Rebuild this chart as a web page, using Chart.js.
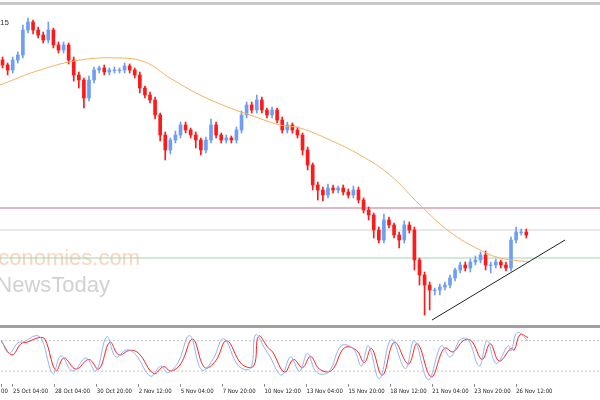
<!DOCTYPE html>
<html><head><meta charset="utf-8">
<script src="https://cdn.jsdelivr.net/npm/chart.js@4"></script>
<style>
html,body{margin:0;padding:0;background:#fff;width:600px;height:400px;overflow:hidden;font-family:Arial,"Liberation Sans",sans-serif}
#top{position:absolute;left:0;top:2px;width:600px;height:3px;background:#c8c8c8}
#sep{position:absolute;left:0;top:325px;width:600px;height:3px;background:#a0a0a0}
#c1{position:absolute;left:0;top:0}
#c2{position:absolute;left:0;top:328px}
#lbl{position:absolute;left:0;top:18px;font-size:8px;color:#333}
</style></head><body>
<div id="top"></div>
<canvas id="c1" width="600" height="325"></canvas>
<div id="sep"></div>
<canvas id="c2" width="600" height="72"></canvas>
<div id="lbl">15</div>
<script>
// price values expressed on chart scale (screen-like, reversed axis)
const firstOpen = 60;
const closes = [65,70,60,55,30,22,30,35,40,30,
45,50,45,60,75,80,98,80,70,68,
72,70,70,70,66,70,75,88,95,100,
115,135,150,140,135,125,130,135,140,150,
140,125,135,140,138,140,130,115,105,110,
100,110,115,110,120,130,125,130,135,150,
165,185,190,195,188,190,188,192,195,190,
200,210,215,230,240,220,225,235,240,225,
230,260,275,285,290,290,287,285,278,270,
265,268,262,260,255,265,265,262,265,268,
240,232,232,235];
const wickUp = [3,2,3,3,5,4,2,3,3,8,2,3,3,2,3,3,2,4,3,2,
3,2,3,2,3,2,2,3,2,3,3,2,3,2,4,3,3,2,3,2,
3,6,3,2,3,2,3,4,3,3,5,3,2,3,2,3,3,2,3,2,
3,2,3,3,4,3,2,3,3,4,3,2,3,2,3,6,3,2,3,4,
3,3,2,3,3,2,3,3,3,2,3,3,3,4,3,4,3,3,2,3,
3,5,3,3];
const wickDn = [3,5,3,3,3,3,4,3,3,3,3,3,3,4,6,8,10,3,3,3,
3,3,3,3,3,3,3,5,3,3,4,6,10,4,3,3,3,3,8,5,
3,3,3,3,3,3,3,3,3,3,3,3,3,3,3,3,3,3,3,5,
5,5,10,6,3,3,3,3,3,3,3,3,5,8,3,3,3,3,8,3,
3,10,10,30,20,5,5,3,3,3,3,3,4,3,3,5,8,3,3,3,
3,3,3,3];
const maPts = [[0,85],[40,70],[80,60],[120,58],[145,62],[170,78],[200,95],[230,108],[250,115],[280,125],[300,128],[330,140],[360,155],[390,175],[420,205],[450,232],[480,250],[500,258],[530,262]];
const hLines = [{y:208,c:"#c4708a"},{y:230,c:"#d4d4d4"},{y:258,c:"#9fd8b0"}];
const trend = [[432,320],[565,240]];
const kPts = [[0,82],[8,55],[17,76],[23,78],[35,90],[41,82],[52,15],[60,50],[72,20],[85,46],[95,20],[106,88],[115,48],[126,62],[135,52],[150,10],[160,30],[167,17],[177,36],[189,90],[201,22],[212,42],[223,84],[238,30],[250,26],[255,92],[265,62],[269,50],[281,12],[290,48],[299,20],[307,55],[316,18],[328,18],[341,70],[353,64],[361,30],[368,70],[379,5],[391,82],[405,25],[414,80],[428,3],[441,70],[450,48],[460,82],[468,82],[479,30],[487,80],[496,35],[508,70],[511,60],[517,96],[528,80]];
const dPts = [[0,80],[11,52],[20,74],[26,77],[38,86],[44,83],[55,21],[63,46],[75,24],[88,43],[98,24],[109,77],[118,52],[129,61],[138,55],[153,15],[163,29],[170,20],[180,34],[192,83],[204,27],[215,40],[226,80],[241,34],[253,30],[258,89],[268,65],[272,58],[284,18],[293,43],[302,27],[310,49],[319,24],[331,21],[344,66],[356,61],[364,37],[371,65],[382,12],[394,77],[408,34],[417,74],[431,9],[444,65],[453,58],[463,80],[471,80],[482,43],[490,74],[499,40],[511,65],[514,61],[520,92],[528,86]];
const tickPos = [12,54,96,138,180,222,264,306,348,390,432,474,516];
const tickLabels = ["25 Oct 04:00","28 Oct 04:00","30 Oct 20:00","2 Nov 12:00","5 Nov 04:00","7 Nov 20:00","10 Nov 12:00","13 Nov 04:00","15 Nov 20:00","18 Nov 12:00","21 Nov 04:00","23 Nov 20:00","26 Nov 12:00"];

const N = 118;
const labels = Array.from({length:N},(_, i)=>i);
const opens = closes.map((c,i)=> i===0?firstOpen:closes[i-1]);
const bodies = closes.map((c,i)=>[opens[i], c===opens[i]?c+0.6:c]);
const wicks = closes.map((c,i)=>[Math.min(opens[i],c)-wickUp[i], Math.max(opens[i],c)+wickDn[i]]);
const cols = closes.map((c,i)=> c<=opens[i] ? "#6f9ef2" : "#ff1a1a");
const xy = a=>a.map(p=>({x:p[0],y:p[1]}));

const datasets = [
 {type:'bar',data:wicks,backgroundColor:cols,barThickness:1,grouped:false,order:3},
 {type:'bar',data:bodies,backgroundColor:cols,barThickness:3,grouped:false,order:2},
 {type:'line',xAxisID:'xp',data:xy(maPts),borderColor:"#f5b060",borderWidth:1,pointRadius:0,tension:0.4,order:1},
 {type:'line',xAxisID:'xp',data:xy(trend),borderColor:"#222",borderWidth:1,pointRadius:0,order:0},
];
hLines.forEach(h=>datasets.push({type:'line',xAxisID:'xp',data:[{x:0,y:h.y},{x:600,y:h.y}],borderColor:h.c,borderWidth:1.2,pointRadius:0,order:4}));

const watermark = {id:'wm',beforeDatasetsDraw(ch){const c=ch.ctx;c.save();c.font="22px 'Liberation Sans',Arial";c.textAlign='right';
 c.fillStyle="rgba(240,150,90,0.4)";c.fillText("Economies.com",140,265);
 c.fillStyle="rgba(140,140,140,0.4)";c.fillText("NewsToday",110,292);c.restore();}};

new Chart(document.getElementById('c1'),{
 data:{labels,datasets},
 plugins:[watermark],
 options:{responsive:false,animation:false,layout:{padding:0},
  plugins:{legend:{display:false},tooltip:{enabled:false}},
  scales:{
   x:{display:false},
   xp:{type:'linear',display:false,min:0,max:600},
   y:{display:false,reverse:true,min:0,max:325}
  }}
});

new Chart(document.getElementById('c2'),{
 type:'line',
 data:{datasets:[
  {data:xy(kPts),borderColor:"#8fb4f5",borderWidth:1,pointRadius:0,tension:0.4},
  {data:xy(dPts),borderColor:"#ff2020",borderWidth:1,pointRadius:0,tension:0.4},
  {data:[{x:0,y:80},{x:600,y:80}],borderColor:"#c8c8c8",borderWidth:1,borderDash:[2,2],pointRadius:0},
  {data:[{x:0,y:20},{x:600,y:20}],borderColor:"#c8c8c8",borderWidth:1,borderDash:[2,2],pointRadius:0}
 ]},
 options:{responsive:false,animation:false,layout:{padding:{bottom:4}},
  plugins:{legend:{display:false},tooltip:{enabled:false}},
  scales:{
   x:{type:'linear',min:0,max:600,afterBuildTicks:ax=>{ax.ticks=[{value:0},...tickPos.map(v=>({value:v}))];},
      ticks:{align:'start',maxRotation:0,autoSkip:false,padding:1,font:{size:6,family:"'DejaVu Sans Condensed','Liberation Sans Narrow',Arial"},color:'#222',
       callback:(v)=>{const i=tickPos.indexOf(v);return i<0?"00":tickLabels[i];}},
      grid:{drawOnChartArea:false,tickLength:3,color:'#888'},border:{color:'#fff'}},
   y:{display:false,min:-5,max:105}
  }}
});
</script></body></html>
